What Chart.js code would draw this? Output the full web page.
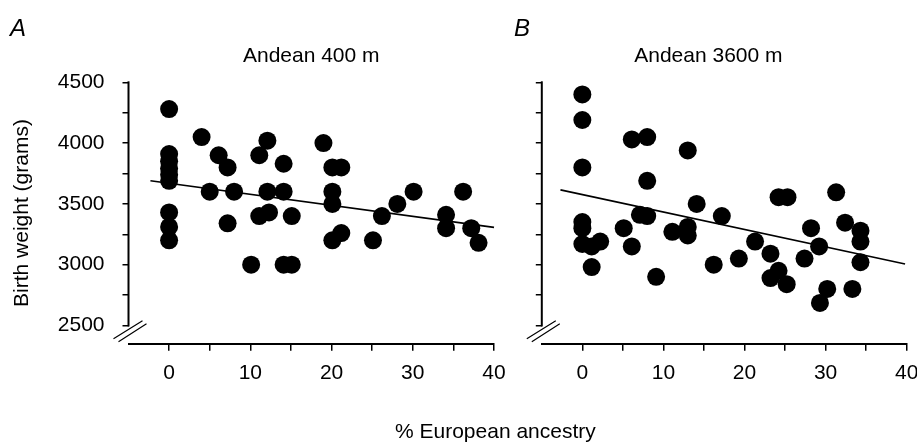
<!DOCTYPE html>
<html>
<head>
<meta charset="utf-8">
<script src="https://cdn.jsdelivr.net/npm/chart.js@4"></script>
<style>
  html, body { margin: 0; padding: 0; background: #fff; overflow: hidden; }
  body { width: 917px; height: 443px; position: relative; font-family: "Liberation Sans", Arial, sans-serif; }
  .panel { position: absolute; top: 0; height: 443px; }
  .tag { position: absolute; font-style: italic; font-size: 24px; line-height: 24px; color: #000; }
  #xlabel { position: absolute; left: 395px; top: 419px; font-size: 21px; line-height: 24px; color: #000; white-space: nowrap; }
</style>
</head>
<body>
<div class="panel" style="left:0;width:530px"><canvas id="chartA"></canvas></div>
<div class="panel" style="left:510px;width:420px"><canvas id="chartB"></canvas></div>
<div class="tag" style="left:10px;top:16px">A</div>
<div class="tag" style="left:514px;top:16px">B</div>
<div id="xlabel">% European ancestry</div>
<script>
// Panel A: Andean 400 m
const ancestryA = [0, 0, 0, 0, 0, 0, 0, 0, 0,
  4, 5, 6.1, 7.2, 7.2, 8,
  10.1, 11.1, 11.1, 12.1, 12.1, 12.3,
  14.1, 14.1, 14.1, 15.1, 15.1,
  19, 20.1, 20.1, 20.1, 20.1, 21.2, 21.2,
  25.1, 26.2, 28.1, 30.1, 34.1, 34.1, 36.2, 37.2, 38.1];
const weightA = [4280, 3910, 3850, 3790, 3740, 3690, 3430, 3310, 3200,
  4050, 3600, 3900, 3800, 3340, 3600,
  3000, 3900, 3400, 4020, 3600, 3430,
  3830, 3600, 3000, 3000, 3400,
  4000, 3800, 3600, 3500, 3200, 3800, 3260,
  3200, 3400, 3500, 3600, 3410, 3300, 3600, 3300, 3180];
const fitXA = [-2.3, 40];
const fitYA = [3690, 3307];

// Panel B: Andean 3600 m
const ancestryB = [0, 0, 0, 0, 0, 0, 1.15, 1.15, 2.2,
  5.1, 6.1, 6.1, 7.1, 8, 8, 8, 9.1,
  11.1, 13, 13, 13, 14.1, 16.2, 17.2, 19.3,
  21.3, 23.2, 23.2, 24.2, 24.2, 25.3, 25.2,
  27.4, 28.2, 29.2, 29.3, 30.2, 31.3, 32.4, 33.3,
  34.3, 34.3, 34.3];
const weightB = [4400, 4190, 3800, 3350, 3300, 3170, 3150, 2980, 3190,
  3300, 4030, 3150, 3410, 4050, 3690, 3400, 2900,
  3270, 3940, 3310, 3240, 3500, 3000, 3400, 3050,
  3190, 3090, 2890, 3555, 2950, 3555, 2840,
  3050, 3300, 3150, 2685, 2800, 3595, 3345, 2800,
  3280, 3190, 3020];
const fitXB = [-2.7, 39.8];
const fitYB = [3615, 3005];

const xTicks = [0, 5, 10, 15, 20, 25, 30, 35, 40];
const yTicks = [2500, 2750, 3000, 3250, 3500, 3750, 4000, 4250, 4500];

const FONT = "'Liberation Sans', Arial, sans-serif";

// y axis stops at 2500, then the // break before the x axis
const axisBreak = {
  id: 'axisBreak',
  afterDraw(chart) {
    const { ctx, chartArea } = chart;
    const y = chart.scales.y;
    const x0 = chartArea.left;
    const yb = chartArea.bottom;
    ctx.save();
    ctx.strokeStyle = '#000';
    ctx.lineWidth = 2;
    ctx.beginPath();
    ctx.moveTo(x0, y.getPixelForValue(4500) - 1);
    ctx.lineTo(x0, y.getPixelForValue(2500) + 1);
    ctx.stroke();
    ctx.lineWidth = 1.2;
    ctx.beginPath();
    ctx.moveTo(x0 - 15, yb - 5); ctx.lineTo(x0 + 14, yb - 23);
    ctx.moveTo(x0 - 10, yb - 2); ctx.lineTo(x0 + 18, yb - 20);
    ctx.stroke();
    ctx.restore();
  }
};

function makeChart(id, title, xs, ys, fx, fy, opts) {
  const pts = xs.map((v, i) => ({ x: v, y: ys[i] }));
  const fit = fx.map((v, i) => ({ x: v, y: fy[i] }));
  return new Chart(document.getElementById(id), {
    type: 'scatter',
    data: {
      datasets: [
        { data: pts, pointRadius: 9, pointHoverRadius: 9, pointBackgroundColor: '#000', pointBorderWidth: 0, clip: false },
        { type: 'line', data: fit, borderColor: '#000', borderWidth: 1.6, pointRadius: 0, fill: false, clip: false }
      ]
    },
    options: {
      responsive: true,
      maintainAspectRatio: false,
      animation: false,
      events: [],
      layout: { padding: { left: 0, right: opts.padRight, top: 20, bottom: 39.3 } },
      plugins: {
        legend: { display: false },
        tooltip: { enabled: false },
        title: {
          display: true, text: title, color: '#000', fullSize: opts.fullTitle,
          font: { family: FONT, size: 21, weight: 'normal', lineHeight: 1.2 },
          padding: { top: 23.4, bottom: 13.7 }
        }
      },
      scales: {
        x: {
          type: 'linear', min: -5, max: 40,
          afterBuildTicks: s => { s.ticks = xTicks.map(v => ({ value: v })); },
          afterFit: s => { s.height = 60; },
          ticks: {
            color: '#000', padding: 10, maxRotation: 0, autoSkip: false,
            font: { family: FONT, size: 21 },
            callback: v => (v % 10 === 0 ? v : '')
          },
          grid: { display: true, drawOnChartArea: false, drawTicks: true, tickLength: 7, color: '#000', lineWidth: 1.5 },
          border: { display: true, color: '#000', width: 2 }
        },
        y: {
          type: 'linear', min: 2350, max: 4500,
          afterBuildTicks: s => { s.ticks = yTicks.map(v => ({ value: v })); },
          afterFit: s => { s.width = opts.yWidth; },
          title: {
            display: opts.showY, text: 'Birth weight (grams)', color: '#000',
            font: { family: FONT, size: 21 }, padding: { top: 10, bottom: 0 }
          },
          ticks: {
            color: '#000', padding: 18, autoSkip: false,
            font: { family: FONT, size: 21 },
            callback: v => (opts.showY && v % 500 === 0 ? v : '')
          },
          grid: { display: true, drawOnChartArea: false, drawTicks: true, tickLength: 6, color: '#000', lineWidth: 1.5 },
          border: { display: false }
        }
      }
    },
    plugins: [axisBreak]
  });
}

makeChart('chartA', 'Andean 400 m', ancestryA, weightA, fitXA, fitYA,
  { padRight: 36, yWidth: 128.5, showY: true, fullTitle: false });
makeChart('chartB', 'Andean 3600 m', ancestryB, weightB, fitXB, fitYB,
  { padRight: 23.3, yWidth: 31.8, showY: false, fullTitle: true });
</script>
</body>
</html>
